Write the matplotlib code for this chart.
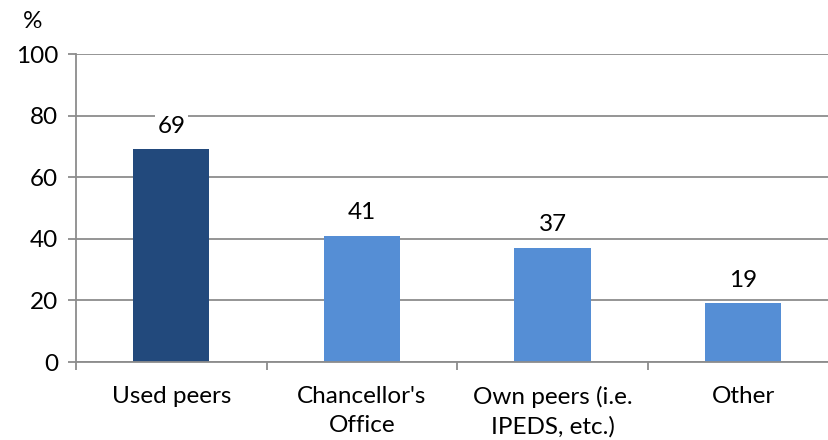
import numpy as np
import matplotlib.pyplot as plt

categories = ["Used peers", "Chancellor's\nOffice", "Own peers (i.e.\nIPEDS, etc.)", "Other"]
values = [69, 41, 37, 19]
colors = ["#22497C", "#558ED5", "#558ED5", "#558ED5"]
yticks = [0, 20, 40, 60, 80, 100]

plt.rcParams['font.family'] = ['Lato', 'DejaVu Sans']
grid_col = "#8C8C8C"
fs = 17.5

fig = plt.figure(figsize=(8.29, 4.40), dpi=100)
ax = fig.add_axes([76/829, 78/440, 762.5/829, 308/440])

x = np.arange(len(categories))
ax.bar(x, values, width=0.40, color=colors, zorder=2)

for xi, v in zip(x, values):
    ax.text(xi, v + 7.6, str(v), ha='center', va='center', fontsize=fs, zorder=3,
            bbox=dict(facecolor='white', edgecolor='none', pad=2))

ax.set_xlim(-0.5, len(categories) - 0.5)
ax.set_ylim(0, 100)
ax.set_yticks(yticks)
ax.set_yticklabels([str(t) for t in yticks], fontsize=fs)
ax.yaxis.grid(True, color=grid_col, linewidth=1.3, zorder=0)
ax.set_axisbelow(True)

# boundaries between categories get the tick marks, labels sit at centres
ax.set_xticks(np.arange(-0.5, len(categories), 1.0))
ax.set_xticklabels([])
ax.set_xticks(x, minor=True)
ax.set_xticklabels(categories, minor=True, fontsize=fs, linespacing=1.5)
ax.tick_params(axis='x', which='minor', length=0, pad=17)
ax.tick_params(axis='x', which='major', length=6, width=1.3, color=grid_col, direction='out')
ax.tick_params(axis='y', length=6, width=1.3, color=grid_col, pad=7)

for s in ['top', 'right']:
    ax.spines[s].set_visible(False)
for s in ['left', 'bottom']:
    ax.spines[s].set_color(grid_col)
    ax.spines[s].set_linewidth(1.3)

fig.text(33/829, 1 - 22/440, "%", ha='center', va='center', fontsize=fs)

fig.savefig("out.png", dpi=100)
